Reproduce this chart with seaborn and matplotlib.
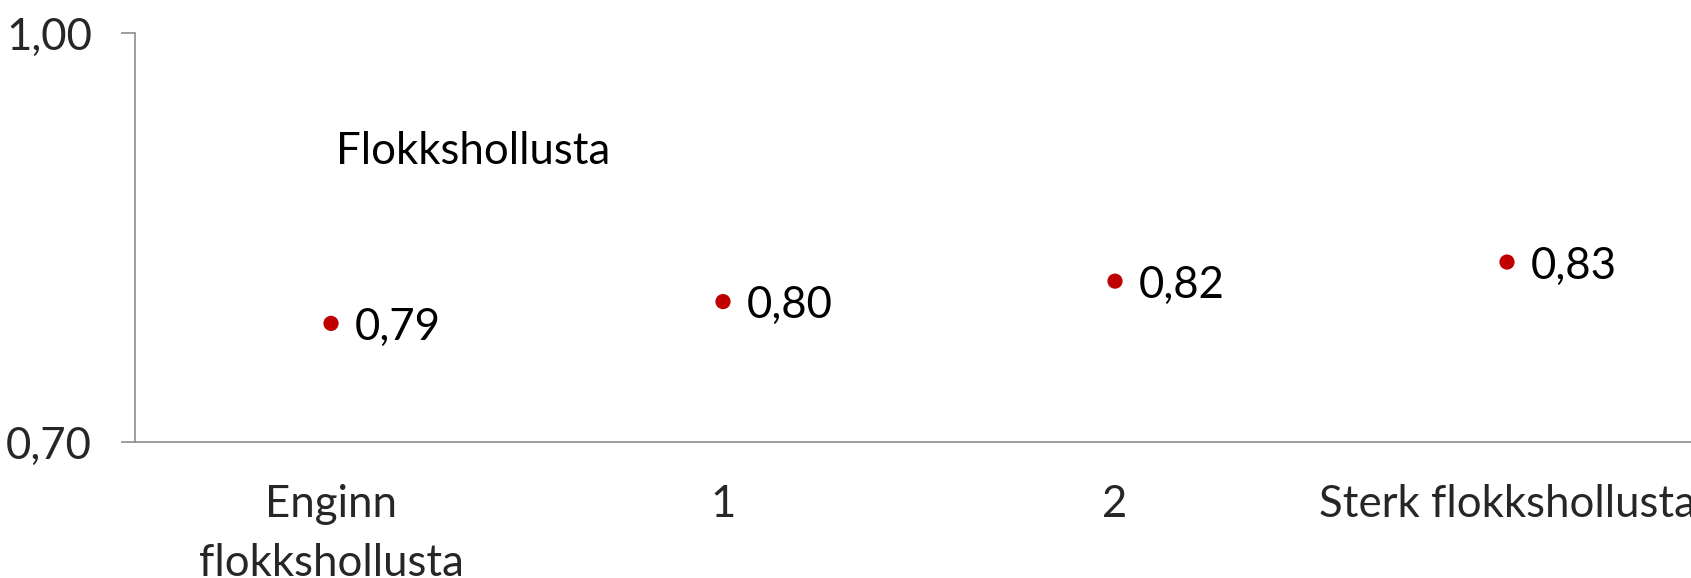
import matplotlib
matplotlib.use("Agg")
import matplotlib.pyplot as plt
import seaborn as sns
import pandas as pd
from matplotlib.ticker import FixedLocator

categories = ["Enginn\nflokkshollusta", "1", "2", "Sterk flokkshollusta"]
values = [0.787, 0.803, 0.818, 0.832]
value_labels = ["0,79", "0,80", "0,82", "0,83"]
y_ticks = [0.70, 1.00]
y_tick_labels = ["0,70", "1,00"]
series_name = "Flokkshollusta"

sns.set_style("white")
plt.rcParams["font.family"] = ["Lato", "DejaVu Sans"]

FS = 31.5

df = pd.DataFrame({"cat": categories, "val": values})

fig = plt.figure(figsize=(16.91, 5.78), dpi=100)
ax = fig.add_axes([135 / 1691, 1 - 442 / 578, 4 * 392 / 1691, 409 / 578])

sns.scatterplot(data=df, x="cat", y="val", ax=ax, color="#C00000", s=120,
                edgecolor="none", legend=False, zorder=3)

for i, (v, lab) in enumerate(zip(values, value_labels)):
    ax.annotate(lab, (i, v), xytext=(17, -3), textcoords="offset points",
                ha="left", va="center", fontsize=FS, color="black")

ax.set_xlim(-0.5, 3.5)
ax.set_ylim(0.70, 1.00)
ax.set_yticks(y_ticks)
ax.set_yticklabels(y_tick_labels)
ax.set_xticks(range(len(categories)))
ax.set_xticklabels(categories)
ax.xaxis.set_minor_locator(FixedLocator([-0.5, 0.5, 1.5, 2.5, 3.5]))
ax.tick_params(axis="x", which="major", length=0, pad=30, labelsize=FS)
ax.tick_params(axis="x", which="minor", length=11, width=1.2, color="#8c8c8c", direction="out")
ax.tick_params(axis="y", which="major", length=10, width=1.2, color="#8c8c8c",
               direction="out", labelsize=FS, pad=21, left=True)
for lab in ax.get_xticklabels():
    lab.set_linespacing(1.55)

for side in ["top", "right"]:
    ax.spines[side].set_visible(False)
for side in ["left", "bottom"]:
    ax.spines[side].set_color("#8c8c8c")
    ax.spines[side].set_linewidth(1.2)
ax.set_xlabel("")
ax.set_ylabel("")

ax.text(0.128, 0.711, series_name, transform=ax.transAxes, ha="left", va="center",
        fontsize=FS, color="black")

fig.savefig("out.png", dpi=100)
